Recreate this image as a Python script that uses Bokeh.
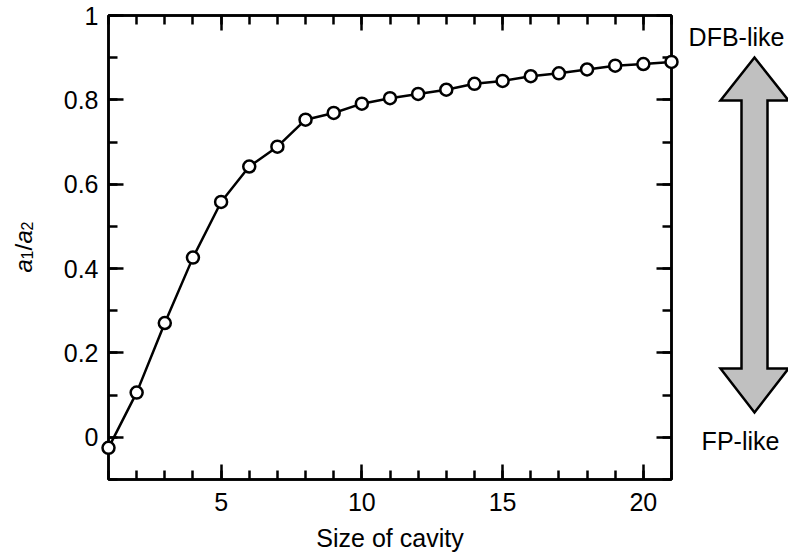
import math
from bokeh.plotting import figure
from bokeh.layouts import row
from bokeh.models import (Range1d, LinearAxis, FixedTicker, CustomJSTickFormatter,
                          Label, ColumnDataSource)
from bokeh.embed import file_html
from bokeh.resources import INLINE

# ---- data ----
cavity_size = [1, 2, 3, 4, 5, 6, 7, 8, 9, 10, 11, 12, 13, 14, 15, 16, 17, 18, 19, 20, 21]
ratio = [-0.025, 0.106, 0.271, 0.426, 0.558, 0.642, 0.689, 0.753, 0.769, 0.791, 0.804,
         0.814, 0.824, 0.838, 0.845, 0.856, 0.863, 0.872, 0.881, 0.885, 0.890]
x_major_ticks = [5, 10, 15, 20]
x_minor_ticks = list(range(1, 22))
y_major_ticks = [0, 0.2, 0.4, 0.6, 0.8, 1]
y_tick_labels = ["0", "0.2", "0.4", "0.6", "0.8", "1"]
y_minor_ticks = [-0.1, 0, 0.1, 0.2, 0.3, 0.4, 0.5, 0.6, 0.7, 0.8, 0.9, 1.0]
x_label = "Size of cavity"
top_label = "DFB-like"
bottom_label = "FP-like"

FONT = "Liberation Sans"
FS = "25px"

W, H = 788, 557
LEFT_W = 40            # strip holding the y-axis title
FL, FR, FT, FB = 108, 671, 15, 479   # main frame in page pixels
RB = 12                # right border of main figure
X0, X1, Y0, Y1 = 1, 21, -0.1, 1.0


def strip(width, x_start):
    # frame spans the same vertical extent as the main frame; coordinates are page pixels
    f = figure(frame_width=width, frame_height=FB - FT,
               x_range=Range1d(x_start, x_start + width),
               y_range=Range1d(FB, FT), output_backend="svg", toolbar_location=None,
               x_axis_location=None, y_axis_location=None,
               min_border_left=0, min_border_right=0,
               min_border_top=FT, min_border_bottom=H - FB)
    f.xgrid.visible = False
    f.ygrid.visible = False
    f.outline_line_color = None
    f.background_fill_color = "white"
    f.border_fill_color = "white"
    return f


# ---------- main plot ----------
p = figure(frame_width=FR - FL, frame_height=FB - FT,
           x_range=Range1d(X0, X1), y_range=Range1d(Y0, Y1),
           output_backend="svg", toolbar_location=None,
           x_axis_location=None, y_axis_location=None,
           min_border_left=FL - LEFT_W, min_border_right=RB,
           min_border_top=FT, min_border_bottom=H - FB)
p.xgrid.visible = False
p.ygrid.visible = False
p.outline_line_color = "black"
p.outline_line_width = 2.5
p.background_fill_color = "white"
p.border_fill_color = "white"

blank = CustomJSTickFormatter(code="return ''")


def style(ax, major, minor):
    ax.ticker = FixedTicker(ticks=major, minor_ticks=minor)
    ax.axis_line_width = 2.5
    ax.major_tick_line_width = 2.5
    ax.minor_tick_line_width = 2.5
    ax.major_tick_in = 15
    ax.major_tick_out = 0
    ax.minor_tick_in = 9
    ax.minor_tick_out = 0
    ax.major_label_text_font = FONT
    ax.major_label_text_font_size = FS
    ax.major_label_text_color = "black"
    ax.axis_label_text_font = FONT
    ax.axis_label_text_font_size = FS
    ax.axis_label_text_font_style = "normal"
    ax.axis_label_text_color = "black"


xb = LinearAxis(axis_label=x_label)
style(xb, x_major_ticks, x_minor_ticks)
xb.major_label_standoff = 13
xb.axis_label_standoff = 10
p.add_layout(xb, "below")

xt = LinearAxis(formatter=blank)
style(xt, x_major_ticks, x_minor_ticks)
p.add_layout(xt, "above")

yl = LinearAxis()
style(yl, y_major_ticks, y_minor_ticks)
yl.major_label_overrides = {t: s for t, s in zip(y_major_ticks, y_tick_labels)}
yl.major_label_standoff = 10
p.add_layout(yl, "left")

yr = LinearAxis(formatter=blank)
style(yr, y_major_ticks, y_minor_ticks)
p.add_layout(yr, "right")

src = ColumnDataSource(dict(x=cavity_size, y=ratio))
ln = p.line("x", "y", source=src, line_color="black", line_width=2.5)
sc = p.scatter("x", "y", source=src, size=12, marker="circle",
               fill_color="white", line_color="black", line_width=2.5)
ln.level = "overlay"
sc.level = "overlay"

# ---------- left strip: y-axis title a1/a2 ----------
left = strip(LEFT_W, 0)
ang = math.pi / 2
pieces = [("a", 23, 272, "italic", "24px"),
          ("1", 26, 259, "normal", "16px"),
          ("/", 23, 250, "normal", "24px"),
          ("a", 23, 243, "italic", "24px"),
          ("2", 26, 230, "normal", "16px")]
for txt, px, py, st, fs in pieces:
    left.add_layout(Label(x=px, y=py, text=txt, angle=ang,
                          text_align="left", text_baseline="alphabetic",
                          text_font=FONT, text_font_size=fs, text_font_style=st,
                          text_color="black"))

# ---------- right strip: double arrow with labels ----------
RX = FR + RB
right = strip(W - RX, RX)
cx, hw, sw = 754, 34, 13
ttip, tbase, bbase, btip = 57, 100, 368, 412
ax_px = [cx, cx + hw, cx + sw, cx + sw, cx + hw, cx, cx - hw, cx - sw, cx - sw, cx - hw]
ay_px = [ttip, tbase, tbase, bbase, bbase, btip, bbase, bbase, tbase, tbase]
right.patch(ax_px, ay_px, fill_color="#c0c0c0", line_color="black", line_width=2.5,
            line_join="miter")
right.add_layout(Label(x=736, y=36, text=top_label, text_align="center",
                       text_baseline="middle", text_font=FONT, text_font_size=FS,
                       text_color="black"))
right.add_layout(Label(x=740, y=440, text=bottom_label, text_align="center",
                       text_baseline="middle", text_font=FONT, text_font_size=FS,
                       text_color="black"))

layout = row(left, p, right, spacing=0)
open("out.html", "w").write(file_html(layout, INLINE))
